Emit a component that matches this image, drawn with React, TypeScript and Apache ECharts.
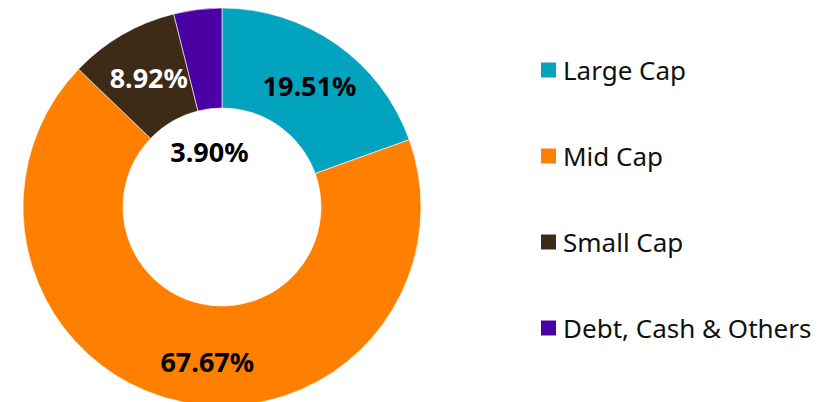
import React, { useEffect, useRef } from "react";
import * as echarts from "echarts";

const categories = ["Large Cap", "Mid Cap", "Small Cap", "Debt, Cash & Others"];
const values = [19.51, 67.67, 8.92, 3.9];

const colors = ["#02A3BF", "#FF7F00", "#3D2A17", "#4A00A3"];
const labelColors = ["#000000", "#000000", "#FFFFFF", "#000000"];
const labelOffsets: [number, number][] = [[0, 3], [17, 6], [3, 2], [6, 95]];

export default function App() {
  const ref = useRef<HTMLDivElement>(null);
  useEffect(() => {
    if (!ref.current) return;
    const chart = echarts.init(ref.current, undefined, { renderer: "svg" });
    chart.setOption({
      animation: false,
      backgroundColor: "#ffffff",
      legend: {
        orient: "vertical",
        left: 539,
        top: 57,
        padding: 0,
        itemWidth: 17,
        itemHeight: 17,
        itemGap: 60,
        icon: "rect",
        selectedMode: false,
        textStyle: {
          fontFamily: "Noto Sans",
          fontSize: 26,
          color: "#111111",
          padding: [0, 0, 0, 1],
        },
        data: categories,
      },
      series: [
        {
          type: "pie",
          center: [222, 207],
          radius: [99, 199],
          startAngle: 90,
          clockwise: true,
          avoidLabelOverlap: false,
          itemStyle: { borderColor: "#ffffff", borderWidth: 0.6 },
          label: {
            show: true,
            position: "inside",
            fontFamily: "Noto Sans",
            fontWeight: "bold",
            fontSize: 27,
            formatter: (p: any) => values[p.dataIndex].toFixed(2) + "%",
          },
          labelLine: { show: false },
          emphasis: { disabled: true },
          data: categories.map((name, i) => ({
            name,
            value: values[i],
            itemStyle: { color: colors[i] },
            label: { color: labelColors[i], offset: labelOffsets[i] },
          })),
        },
      ],
    });
    return () => chart.dispose();
  }, []);
  return (
    <div
      ref={ref}
      style={{ position: "absolute", left: 0, top: 0, width: 823, height: 402 }}
    />
  );
}
